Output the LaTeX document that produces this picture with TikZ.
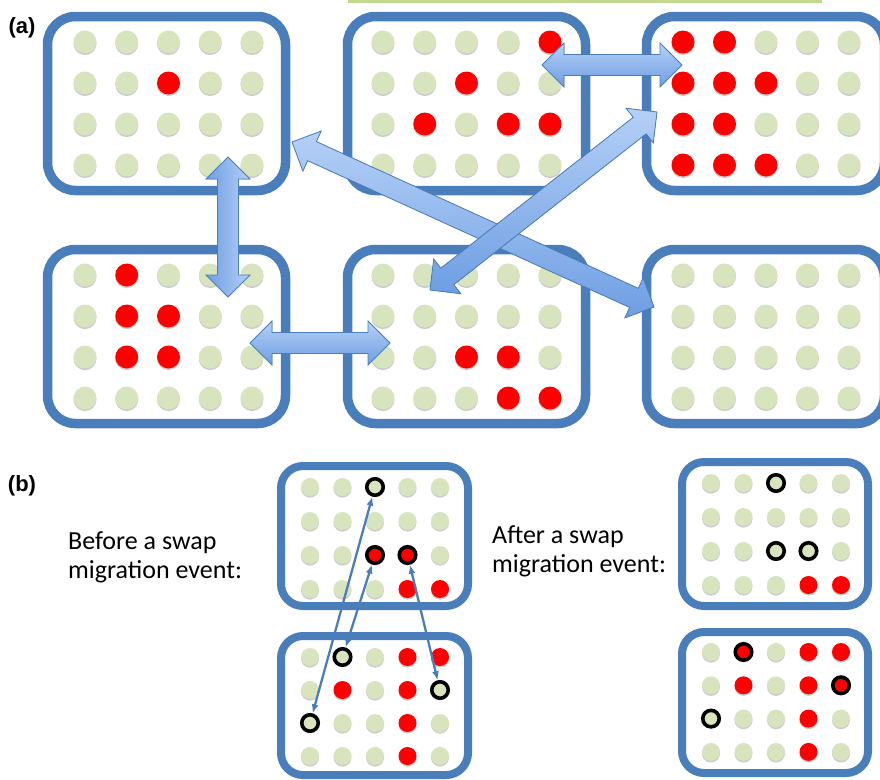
\documentclass[tikz,border=0pt]{standalone}
\usepackage{fontspec}
\setmainfont{Carlito}
\newfontfamily\labfont{Liberation Sans}
\usetikzlibrary{calc,shadows,arrows.meta}
\definecolor{boxblue}{HTML}{4A7EBB}
\definecolor{dgreen}{HTML}{D7E4BD}
\definecolor{dred}{HTML}{FF0000}
\definecolor{arrlight}{HTML}{B5D0F7}
\definecolor{arrdark}{HTML}{6E9EE2}
\definecolor{topline}{HTML}{C2D88F}

\makeatletter
\newcommand\dotgrid[9]{%
 \foreach \r in {1,...,4}{\foreach \c in {1,...,5}{%
   \edef\dkey{,\r-\c,}%
   \def\dsty{#6g}%
   \expandafter\in@\expandafter{\dkey}{,#7,}\ifin@\def\dsty{#6r}\fi
   \expandafter\in@\expandafter{\dkey}{,#8,}\ifin@\def\dsty{#6R}\fi
   \expandafter\in@\expandafter{\dkey}{,#9,}\ifin@\def\dsty{#6G}\fi
   \expandafter\node\expandafter[\dsty] (#1-\r-\c) at ({#2+(\c-1)*#4},{#3+(\r-1)*#5}) {};
 }}}
\makeatother

\def\fahl{22pt}\def\fahw{22pt}\def\fasw{10.5pt}
\newcommand\fatarr[4][]{%
 \coordinate (#2-ha) at ($(#3)!\fahl!(#4)$);
 \coordinate (#2-hb) at ($(#4)!\fahl!(#3)$);
 \filldraw[fatarrow,#1] (#3) -- ($(#2-ha)!\fahw!90:(#3)$) -- ($(#2-ha)!\fasw!90:(#3)$)
   -- ($(#2-hb)!\fasw!-90:(#4)$) -- ($(#2-hb)!\fahw!-90:(#4)$) -- (#4)
   -- ($(#2-hb)!\fahw!90:(#4)$) -- ($(#2-hb)!\fasw!90:(#4)$)
   -- ($(#2-ha)!\fasw!-90:(#3)$) -- ($(#2-ha)!\fahw!-90:(#3)$) -- cycle;}

\tikzset{
  dsh/.style={drop shadow={shadow xshift=0pt,shadow yshift=-1.6pt,fill=black,opacity=0.2}},
  ag/.style={circle,inner sep=0,minimum size=23,fill=dgreen,dsh},
  ar/.style={circle,inner sep=0,minimum size=23,fill=dred,dsh},
  bg/.style={circle,inner sep=0,minimum size=18,fill=dgreen,dsh},
  br/.style={circle,inner sep=0,minimum size=18,fill=dred,dsh},
  bG/.style={circle,inner sep=0,minimum size=16.5,fill=dgreen,draw=black,line width=3.6pt,dsh},
  bR/.style={circle,inner sep=0,minimum size=16.5,fill=dred,draw=black,line width=3.6pt,dsh},
  boxa/.style={draw=boxblue,line width=9.5pt,rounded corners=28pt,fill=white,inner sep=0,
     minimum width=238,minimum height=174},
  boxb/.style={draw=boxblue,line width=8pt,rounded corners=22pt,fill=white,inner sep=0,
     minimum width=187},
  fatarrow/.style={draw=boxblue,line width=0.8pt,line join=miter,top color=arrlight,bottom color=arrdark},
  thinarr/.style={draw=boxblue,line width=2.3pt,arrows={Latex[length=9pt,width=7pt]-Latex[length=9pt,width=7pt]}},
  lab/.style={font=\labfont\bfseries\fontsize{22}{24}\selectfont,inner sep=0},
  txt/.style={font=\fontsize{26}{30}\selectfont,inner sep=0,anchor=base west}
}

\begin{document}
\begin{tikzpicture}[x=1pt,y=-1pt]
\useasboundingbox (0,0) rectangle (880,779);
\clip (0,0) rectangle (880,779);
\fill[topline] (348,0) rectangle (822,3);

% ---------- (a) ----------
\node[lab] (la) at (22,28) {(a)};
\node[boxa] (A1) at (166.5,103.5) {};
\node[boxa] (A2) at (466.5,103.5) {};
\node[boxa] (A3) at (765.5,103.5) {};
\node[boxa] (A4) at (166.5,336.5) {};
\node[boxa] (A5) at (466.5,336.5) {};
\node[boxa] (A6) at (765.5,336.5) {};

\dotgrid{a1}{85}{42}{41.75}{41}{a}{2-3}{}{}
\dotgrid{a2}{383}{42}{41.75}{41}{a}{1-5,2-3,3-2,3-4,3-5}{}{}
\dotgrid{a3}{683}{42}{41.5}{41}{a}{1-1,1-2,2-1,2-2,2-3,3-1,3-2,4-1,4-2,4-3}{}{}
\dotgrid{a4}{85}{275}{41.75}{41}{a}{1-2,2-2,2-3,3-2,3-3}{}{}
\dotgrid{a5}{383}{275}{41.75}{41}{a}{3-3,3-4,4-4,4-5}{}{}
\dotgrid{a6}{683}{275}{41.5}{41}{a}{}{}{}

\coordinate (v1) at (228,157);
\coordinate (v2) at (228,297);
\coordinate (h1) at (250,343);
\coordinate (h2) at (390,343);
\coordinate (t1) at (542,65);
\coordinate (t2) at (682,65);
\coordinate (d1) at (292,142);
\coordinate (d2) at (654,307);
\coordinate (e1) at (430,290);
\coordinate (e2) at (657,112);

\fatarr[left color=arrdark,right color=arrlight]{av}{v1}{v2}
\fatarr{ah}{h1}{h2}
\fatarr{at}{t1}{t2}
\fatarr{ad}{d1}{d2}
\fatarr{ae}{e1}{e2}

% ---------- (b) ----------
\node[lab] (lb) at (22,486) {(b)};
\node[txt] (tb1) at (68,549) {Before a swap};
\node[txt] (tb2) at (68,578) {migration event:};
\node[txt] (ta1) at (492,543) {After a swap};
\node[txt] (ta2) at (492,572) {migration event:};

\node[boxb,minimum height=140] (B1) at (374.5,536) {};
\node[boxb,minimum height=139] (B2) at (374.5,705.5) {};
\node[boxb,minimum width=186,minimum height=144] (B3) at (775,534) {};
\node[boxb,minimum width=186,minimum height=141] (B4) at (775,702.5) {};

\dotgrid{b1}{310}{487}{32.5}{34}{b}{4-4,4-5}{3-3,3-4}{1-3}
\dotgrid{b2}{310}{657}{32.5}{33}{b}{1-4,1-5,2-2,2-4,3-4,4-4}{}{1-2,2-5,3-1}
\dotgrid{b3}{711}{483}{32.5}{34}{b}{4-4,4-5}{}{1-3,3-3,3-4}
\dotgrid{b4}{711}{652}{32.5}{33.3}{b}{1-4,1-5,2-2,2-4,3-4,4-4}{1-2,2-5}{3-1}

\draw[thinarr] (b1-1-3) -- (b2-3-1);
\draw[thinarr] (b1-3-3) -- (b2-1-2);
\draw[thinarr] (b1-3-4) -- (b2-2-5);
\end{tikzpicture}
\end{document}
